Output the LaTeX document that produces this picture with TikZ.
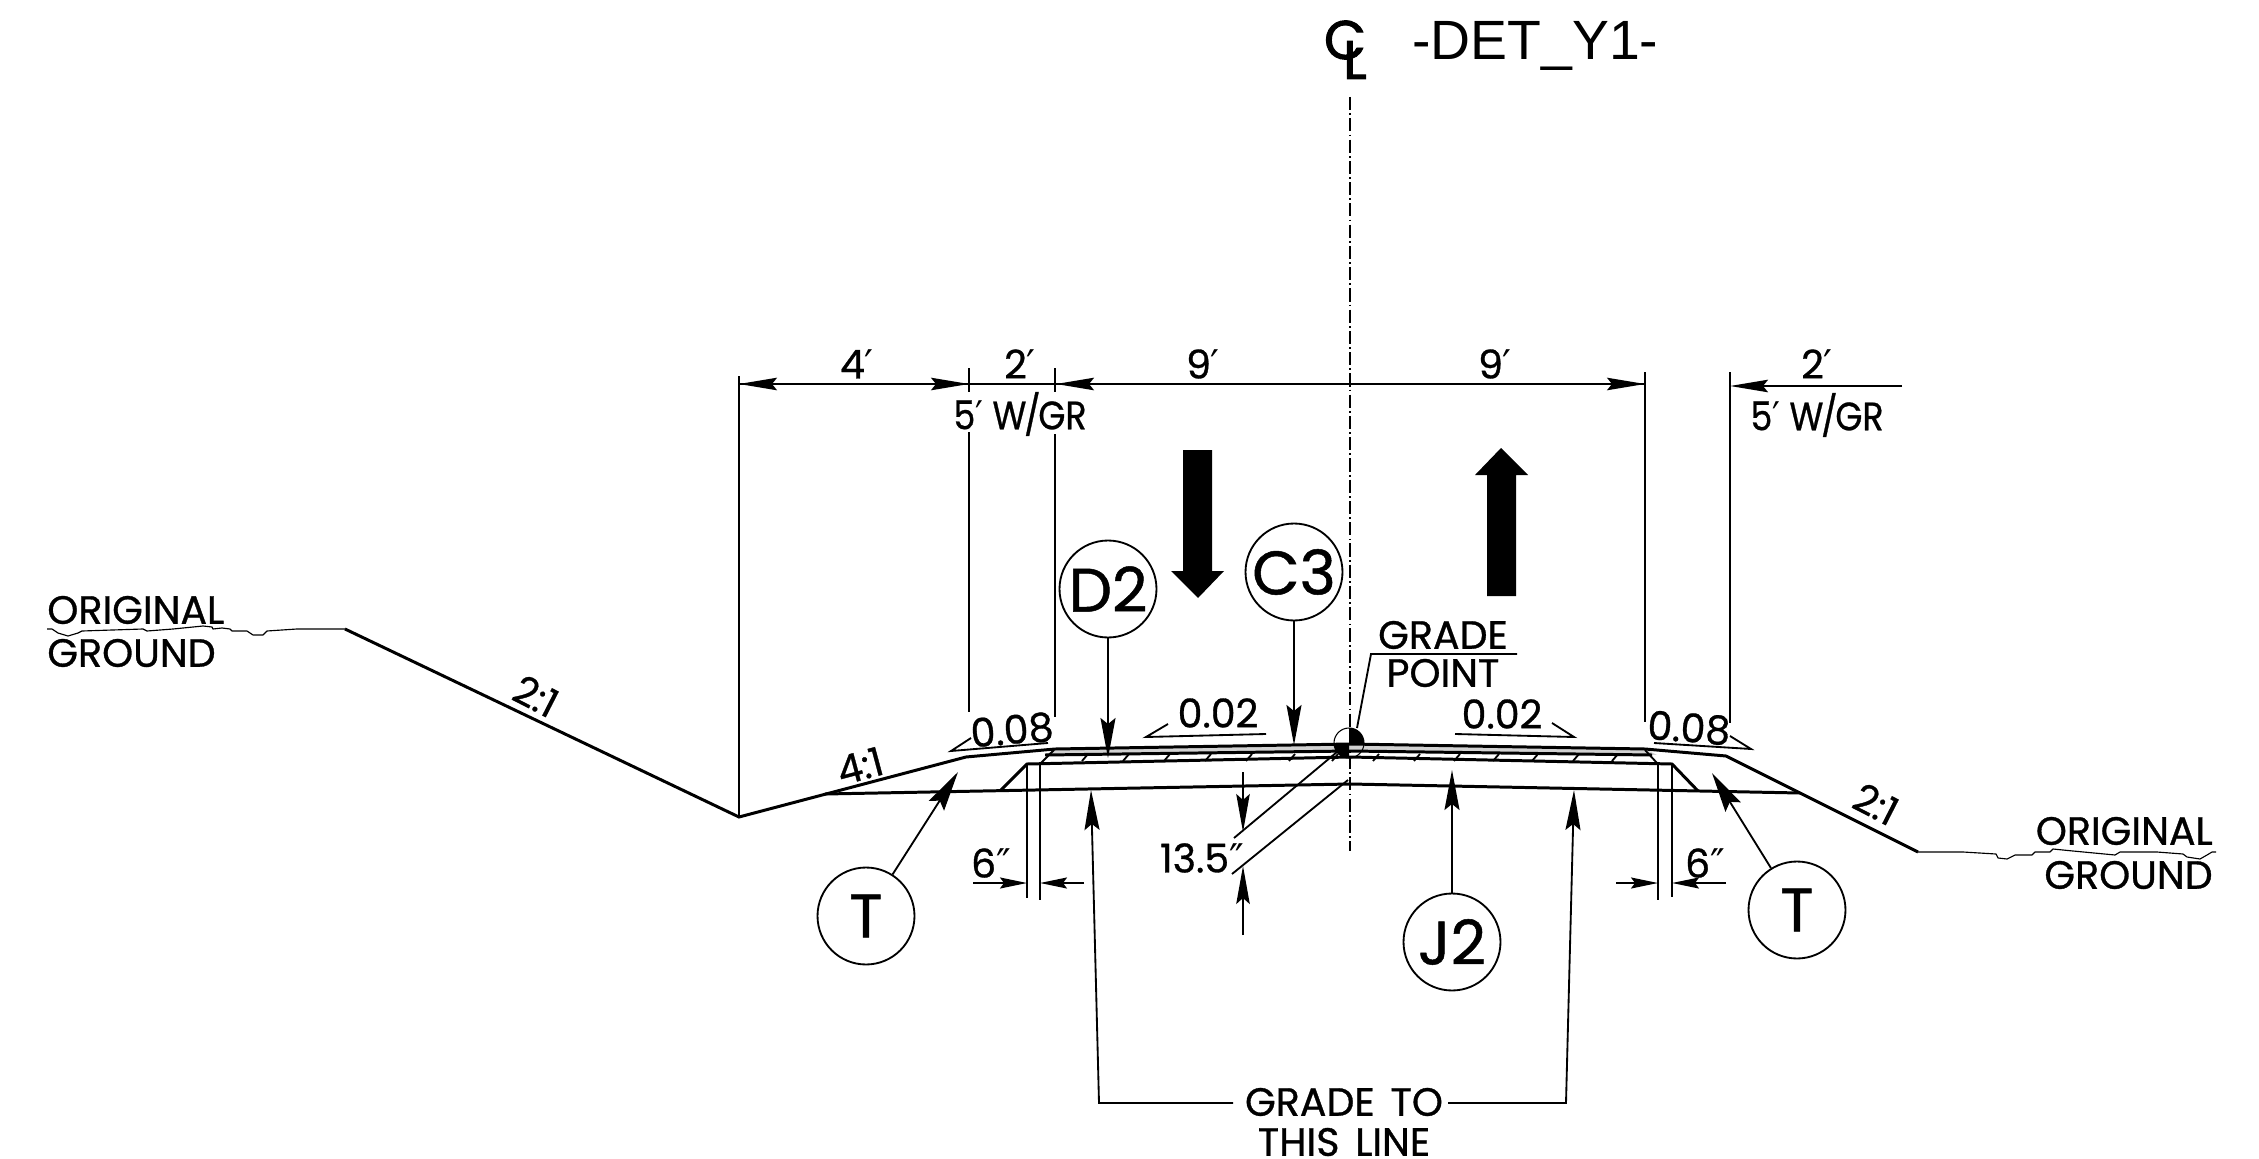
\documentclass[tikz,border=0pt]{standalone}
\usepackage{graphicx}
\usepackage{fontspec}
\setmainfont[FakeBold=0.8]{Poppins}
\newfontfamily\clfont[FakeBold=1.8]{Poppins}
\newfontfamily\primefont{DejaVu Sans}
\newfontfamily\arialfont{Liberation Sans}
\newcommand{\ft}{{\primefont\char"2032}}
\newcommand{\inch}{{\primefont\char"2033}}
\newcommand{\tight}[1]{\scalebox{0.88}[1]{#1}}
\usetikzlibrary{arrows.meta}
\tikzset{
  x=0.02cm,y=-0.02cm,
  heavy/.style={line width=1.7pt,line join=miter},
  thin line/.style={line width=1.05pt},
  ground/.style={line width=0.65pt,line join=round},
  lab/.style={inner sep=0pt,font=\fontsize{22.5}{22.5}\selectfont},
  bubble/.style={circle,draw,line width=1.05pt,minimum size=1.94cm,inner sep=0pt,font=\fontsize{35}{35}\selectfont},
  longhead/.style={-{Stealth[length=0.8cm,width=0.3cm,inset=0.12cm]},line width=1.05pt},
  tilthead/.style={-{Stealth[length=0.8cm,width=0.36cm,inset=0.12cm]},line width=1.05pt},
  dimhead/.style={-{Stealth[length=0.76cm,width=0.25cm,inset=0.1cm]},line width=1.05pt},
  midhead/.style={-{Stealth[length=0.76cm,width=0.27cm,inset=0.12cm]},line width=1.05pt},
  smallhead/.style={-{Stealth[length=0.54cm,width=0.22cm,inset=0.08cm]},line width=1.05pt},
}
\begin{document}
\begin{tikzpicture}
\useasboundingbox (0,0) rectangle (2259,1159);
% centre line
\draw[line width=0.85pt,dash pattern=on 7.5pt off 1.8pt on 1pt off 1.8pt] (1350,97) -- (1350,851);
% road profile
\fill[black!18] (1055,749) -- (1350,744) -- (1645,749) -- (1657,755) -- (1350,751) -- (1045,755) -- cycle;
\draw[heavy] (345,629) -- (739,817) -- (966,757) -- (1055,749) -- (1350,744) -- (1645,749) -- (1726,756) -- (1918,852);
\draw[heavy] (1045,755) -- (1350,751) -- (1652,755);
\draw[heavy] (1001,790) -- (1027,764) -- (1350,757) -- (1672,764) -- (1698,791);
\draw[heavy] (825,794) -- (1350,784) -- (1800,793);
\draw[thin line] (1041,763) -- (1054,750) (1645,750) -- (1657,763);
\foreach \hx in {1082,1123,1164,1205,1246,1289,1332,1373,1414,1454,1493,1532,1573,1612}
  \draw[thin line] (\hx,761) -- (\hx+6,754);
% original ground
\draw[ground] (47,629) -- (52,629) -- (58,633) -- (68,636) -- (78,633) -- (82,631) -- (143,629) -- (147,631) -- (173,629) -- (203,626) -- (212,627) -- (213,629) -- (222,628) -- (230,629) -- (232,631) -- (247,631) -- (253,635) -- (263,635) -- (267,631) -- (297,629) -- (345,629);
\draw[ground] (1918,852) -- (1963,852) -- (1996,854) -- (1998,858) -- (2007,859) -- (2015,855) -- (2032,855) -- (2035,852) -- (2050,852) -- (2053,849) -- (2073,851) -- (2115,855) -- (2120,852) -- (2157,852) -- (2183,854) -- (2187,857) -- (2200,859) -- (2207,855) -- (2212,852) -- (2216,852);
% extension lines
\draw[thin line] (739,376) -- (739,817);
\draw[thin line] (969,368) -- (969,392) (969,432) -- (969,712);
\draw[thin line] (1055,368) -- (1055,392) (1055,434) -- (1055,717);
\draw[thin line] (1645,372) -- (1645,722);
\draw[thin line] (1730,372) -- (1730,723);
\draw[thin line] (1027,764) -- (1027,898) (1040,764) -- (1040,900);
\draw[thin line] (1658,764) -- (1658,900) (1672,764) -- (1672,897);
% top dimensions
\coordinate (d0) at (739,384);
\coordinate (d1) at (969,384);
\coordinate (d2) at (1056,384);
\coordinate (d3) at (1645,384);
\coordinate (d4) at (1730,386);
\coordinate (d5) at (1902,386);
\draw[dimhead] (d1) -- (d0);
\draw[dimhead] (d0) -- (d1);
\draw[thin line] (d1) -- (d2);
\draw[dimhead] (d3) -- (d2);
\draw[dimhead] (d2) -- (d3);
\draw[dimhead] (d5) -- (d4);
\node[lab] (t4) at (857,364) {4\ft};
\node[lab] (t2a) at (1020,364) {2\ft};
\node[lab] (t9a) at (1203,364) {9\ft};
\node[lab] (t9b) at (1495,364) {9\ft};
\node[lab] (t2b) at (1817,364) {2\ft};
\node[lab] (w1) at (1020,414) {\tight{5\ft\ W\kern-1.5pt/\kern-1.5pt GR}};
\node[lab] (w2) at (1817,415) {\tight{5\ft\ W\kern-1.5pt/\kern-1.5pt GR}};
% direction arrows
\fill (1183,450) -- (1212,450) -- (1212,571) -- (1224,571) -- (1198,598) -- (1171,571) -- (1183,571) -- cycle;
\fill (1487,596) -- (1516,596) -- (1516,475) -- (1528,475) -- (1501,448) -- (1475,475) -- (1487,475) -- cycle;
% bubbles
\node[bubble] (D2) at (1108,589) {D2};
\node[bubble] (C3) at (1294,572) {C3};
\node[bubble] (T1) at (866,916) {T};
\node[bubble] (T2) at (1797,910) {T};
\node[bubble] (J2) at (1452,942) {J2};
\coordinate (D2t) at (1108,758);
\coordinate (C3t) at (1294,745);
\coordinate (T1t) at (958,772);
\coordinate (T2t) at (1712,773);
\coordinate (J2t) at (1452,770);
\draw[longhead] (D2) -- (D2t);
\draw[longhead] (C3) -- (C3t);
\draw[tilthead] (T1) -- (T1t);
\draw[tilthead] (T2) -- (T2t);
\draw[longhead] (J2) -- (J2t);
% grade point
\coordinate (gp) at (1349,743);
\draw[line width=0.6pt] (gp) circle[radius=0.3cm];
\fill (gp) -- (1349,728) .. controls (1357.3,728) and (1364,734.7) .. (1364,743) -- cycle;
\fill (gp) -- (1334,743) .. controls (1334,751.3) and (1340.7,758) .. (1349,758) -- cycle;
\coordinate (gl1) at (1371,654);
\coordinate (gl2) at (1517,654);
\draw[thin line] (1357,728) -- (gl1) -- (gl2);
\node[lab] (gr1) at (1443,635) {GRADE};
\node[lab] (gr2) at (1443,673) {POINT};
% 13.5 dimension
\draw[thin line] (1234,838) -- (1337,752) (1232,874) -- (1348,780);
\coordinate (a1) at (1243,772);
\coordinate (a2) at (1243,832);
\coordinate (a3) at (1243,935);
\coordinate (a4) at (1243,866);
\draw[midhead] (a1) -- (a2);
\draw[midhead] (a3) -- (a4);
\node[lab] (t135) at (1202,858) {13.5\inch};
% 6 inch dimensions
\coordinate (s1) at (973,883);
\coordinate (s2) at (1027,883);
\coordinate (s3) at (1084,883);
\coordinate (s4) at (1040,883);
\coordinate (s5) at (1616,883);
\coordinate (s6) at (1658,883);
\coordinate (s7) at (1726,883);
\coordinate (s8) at (1672,883);
\draw[smallhead] (s1) -- (s2);
\draw[smallhead] (s3) -- (s4);
\draw[smallhead] (s5) -- (s6);
\draw[smallhead] (s7) -- (s8);
\node[lab] (t6a) at (991,863) {6\inch};
\node[lab] (t6b) at (1705,863) {6\inch};
% grade to this line
\coordinate (g1) at (1233,1103);
\coordinate (g2) at (1099,1103);
\coordinate (g3) at (1091,790);
\coordinate (g4) at (1448,1103);
\coordinate (g5) at (1566,1103);
\coordinate (g6) at (1574,790);
\draw[longhead] (g1) -- (g2) -- (g3);
\draw[longhead] (g4) -- (g5) -- (g6);
\node[lab] (gt1) at (1344,1102) {GRADE\hspace{3pt} TO};
\node[lab] (gt2) at (1344,1142) {THIS\hspace{3pt} LINE};
% slopes
\draw[thin line] (1266,734) -- (1146,737) -- (1168,724);
\node[lab] (s02a) at (1218,713) {0.02};
\draw[thin line] (1455,734) -- (1574,737) -- (1552,723);
\node[lab] (s02b) at (1502,714) {0.02};
\draw[thin line] (1048,743) -- (951,751) -- (971,738);
\node[lab,rotate=5] (s08a) at (1012,730) {0.08};
\draw[thin line] (1654,743) -- (1751,749) -- (1730,736);
\node[lab,rotate=-4] (s08b) at (1689,728) {0.08};
\node[lab,rotate=-27] (r1) at (536,696) {2:1};
\node[lab,rotate=15] (r2) at (860,766) {4:1};
\node[lab,rotate=-27] (r3) at (1876,804) {2:1};
% ground labels
\node[lab,anchor=west] (og1) at (47,610) {ORIGINAL};
\node[lab,anchor=west] (og2) at (47,653) {GROUND};
\node[lab,anchor=east] (og3) at (2213,831) {ORIGINAL};
\node[lab,anchor=east] (og4) at (2213,875) {GROUND};
% title
\node[inner sep=0pt,font=\clfont\fontsize{31}{31}\selectfont] (cl1) at (1345,40) {C};
\node[inner sep=0pt,font=\clfont\fontsize{31}{31}\selectfont] (cl2) at (1355,60) {L};
\node[inner sep=0pt,anchor=base west,font=\arialfont\fontsize{31.5}{31.5}\selectfont] (det) at (1412,60) {-DET\_Y1-};
\end{tikzpicture}
\end{document}
